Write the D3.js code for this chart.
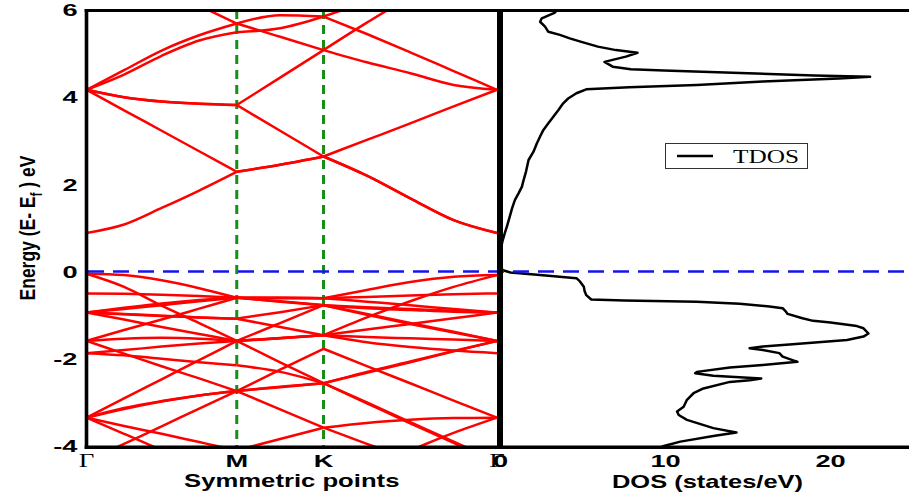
<!DOCTYPE html>
<html>
<head>
<meta charset="utf-8">
<script src="https://d3js.org/d3.v7.min.js"></script>
<style>
	body { margin: 0; background: #fff; }
	svg { display: block; }
</style>
</head>
<body>
<svg></svg>
<script>
const w = 909;
const h = 497;

// k path: Γ - M - K - Γ (hexagonal, lengths 1/√3, 1/3, 2/3)
const kPath = [0, 0.1443, 0.2887, 0.433, 0.5774, 0.744, 0.9107, 1.0774, 1.244, 1.4107, 1.5774];
const symLabels = ['Γ', 'M', 'K', 'Γ'];
const symPos = [0, 0.5774, 0.9107, 1.5774];
const energyTicks = [-4, -2, 0, 2, 4, 6];
const dosTicks = [0, 10, 20];
const segments = [[0, 4], [4, 6], [6, 10]];

// conduction bands (eV at each k point)
const cb1 = [0.885, 1.08, 1.46, 1.86, 2.29, 2.45, 2.64, 2.2, 1.68, 1.18, 0.885];
const cb2 = [4.17, 3.7, 3.23, 2.76, 2.29, 2.45, 2.64, 3.02, 3.4, 3.79, 4.17];
const cb3 = [4.17, 4.0, 3.9, 3.85, 3.82, 3.23, 2.64, 2.2, 1.68, 1.18, 0.885];
const cb4 = [4.17, 4.0, 3.9, 3.85, 3.82, 4.45, 5.08, 5.71, 6.3, 6.8, 7.1];
const cb5 = [4.17, 4.52, 4.95, 5.3, 5.49, 5.58, 5.85, 6.2, 6.6, 7.0, 7.3];
const cb6 = [4.17, 4.62, 5.07, 5.42, 5.69, 5.88, 5.85, 5.45, 5.03, 4.6, 4.17];
const cb7 = [7.2, 6.9, 6.5, 6.1, 5.69, 5.385, 5.08, 4.8, 4.55, 4.28, 4.17];

// valence bands
const vb1 = [-0.05, -0.08, -0.2, -0.38, -0.6, -0.6, -0.61, -0.42, -0.24, -0.12, -0.08];
const vb2 = [-0.05, -0.35, -0.78, -1.18, -1.59, -2.08, -2.56, -2.32, -2.08, -1.83, -1.59];
const vb3 = [-0.5, -0.51, -0.53, -0.56, -0.6, -0.6, -0.61, -0.58, -0.55, -0.52, -0.5];
const vb4 = [-0.94, -0.86, -0.77, -0.68, -0.6, -0.61, -0.61, -0.69, -0.77, -0.86, -0.94];
const vb5 = [-0.94, -0.83, -0.73, -0.65, -0.6, -0.68, -0.77, -0.82, -0.86, -0.9, -0.94];
const vb6 = [-1.59, -1.34, -1.1, -0.85, -0.6, -0.69, -0.77, -0.84, -0.88, -0.92, -0.94];
const vb7 = [-0.94, -0.97, -1.01, -1.05, -1.08, -0.93, -0.77, -0.99, -1.2, -1.4, -1.59];
const vb8 = [-0.94, -0.98, -1.02, -1.05, -1.08, -1.27, -1.46, -1.05, -0.68, -0.35, -0.08];
const vb9 = [-0.94, -1.1, -1.27, -1.43, -1.59, -1.52, -1.46, -1.33, -1.2, -1.07, -0.94];
const vb10 = [-1.59, -1.54, -1.52, -1.54, -1.59, -1.53, -1.46, -1.5, -1.53, -1.56, -1.59];
const vb11 = [-1.87, -1.8, -1.72, -1.65, -1.59, -1.53, -1.46, -1.62, -1.73, -1.81, -1.87];
const vb12 = [-1.87, -1.92, -2.0, -2.08, -2.15, -2.3, -2.56, -2.3, -2.06, -1.82, -1.59];
const vb13 = [-1.59, -1.88, -2.17, -2.45, -2.74, -2.25, -1.77, -2.17, -2.56, -2.96, -3.35];
const vb14 = [-3.35, -3.15, -2.98, -2.84, -2.74, -2.64, -2.56, -3.02, -3.48, -3.93, -4.39];
const vb15 = [-4.35, -3.95, -3.55, -3.14, -2.74, -2.65, -2.56, -3.0, -3.45, -3.9, -4.35];
const vb16 = [-3.35, -3.13, -2.97, -2.84, -2.74, -3.16, -3.58, -3.47, -3.4, -3.36, -3.35];
const vb17 = [-3.35, -3.54, -3.72, -3.91, -4.1, -3.84, -3.58, -3.95, -4.3, -4.6, -4.9];
const vb18 = [-3.35, -3.72, -4.1, -4.5, -4.86, -4.9, -4.85, -4.5, -4.1, -3.7, -3.35];
const vb19 = [-3.35, -2.91, -2.47, -2.03, -1.59, -1.18, -0.77, -0.97, -1.18, -1.38, -1.59];

const bands = [cb1, cb2, cb3, cb4, cb5, cb6, cb7,
	vb1, vb2, vb3, vb4, vb5, vb6, vb7, vb8, vb9, vb10,
	vb11, vb12, vb13, vb14, vb15, vb16, vb17, vb18, vb19];

// total DOS: energy (eV) and states/eV
const dosEnergy = [6.1, 5.94, 5.81, 5.73, 5.62, 5.5, 5.43, 5.35, 5.27, 5.16, 5.08, 5.02, 4.93, 4.81,
	4.7, 4.64, 4.61, 4.55, 4.5, 4.47, 4.43, 4.36, 4.28, 4.23, 4.18, 4.09, 3.97, 3.86, 3.7, 3.55,
	3.4, 3.25, 3.1, 2.94, 2.75, 2.56, 2.3, 2.1, 1.95, 1.8, 1.64, 1.45, 1.26, 1.05, 0.88, 0.7,
	0.57, 0.45, 0.1, 0.03, -0.02, -0.08, -0.15, -0.22, -0.35, -0.45, -0.54, -0.64, -0.66, -0.69,
	-0.74, -0.8, -0.84, -0.92, -0.97, -1.07, -1.13, -1.17, -1.25, -1.3, -1.42, -1.49, -1.57,
	-1.66, -1.72, -1.76, -1.8, -1.87, -1.95, -2.07, -2.14, -2.2, -2.3, -2.33, -2.39, -2.45,
	-2.49, -2.53, -2.68, -2.79, -2.94, -3.1, -3.21, -3.29, -3.4, -3.59, -3.69, -3.77, -3.9, -4.0, -4.1];
const dosStates = [3.6, 3.3, 2.5, 2.4, 2.7, 2.9, 3.6, 4.2, 4.9, 5.9, 7.0, 8.3, 7.6, 6.3,
	6.8, 7.9, 9.9, 15.0, 19.0, 22.4, 20.5, 15.9, 11.9, 7.8, 5.2, 4.6, 4.1, 3.8, 3.5, 3.2,
	2.9, 2.6, 2.4, 2.2, 2.0, 1.7, 1.55, 1.4, 1.3, 1.1, 0.87, 0.7, 0.56, 0.4, 0.26, 0.12,
	0.05, 0, 0, 0.15, 0.6, 2.4, 4.6, 4.8, 5.05, 5.1, 5.2, 5.5, 7.5, 11.9,
	14.5, 16.3, 17.1, 17.3, 17.4, 18.3, 18.95, 20.0, 21.6, 22.0, 22.3, 22.0, 21.0,
	17.9, 15.9, 15.1, 15.9, 16.9, 17.1, 18.0, 15.9, 13.9, 11.9, 11.8, 12.9, 15.8,
	15.1, 13.9, 12.3, 11.7, 11.3, 11.1, 10.7, 10.8, 11.3, 12.9, 14.3, 12.9, 10.9, 9.9, 9.3];

const sans = 'Liberation Sans, Arial, sans-serif';
const serif = 'Liberation Serif, Times New Roman, serif';

let xBand;
let xDos;
let yScale;

const canvas = d3.select('svg').attr('width', w).attr('height', h);

const generateScales = () => {
	xBand = d3.scaleLinear().domain([0, 1.5774]).range([86.5, 497]);
	xDos = d3.scaleLinear().domain([0, 25]).range([500.5, 913]);
	yScale = d3.scaleLinear().domain([-4, 6]).range([446, 10]);
};

const drawClips = () => {
	const defs = canvas.append('defs');
	defs.append('clipPath').attr('id', 'bandClip')
		.append('rect').attr('x', 86).attr('y', 10).attr('width', 412).attr('height', 436);
	defs.append('clipPath').attr('id', 'dosClip')
		.append('rect').attr('x', 500).attr('y', 10).attr('width', 409).attr('height', 436);
};

const drawBands = () => {
	// green dashed lines at M and K
	canvas.append('g')
		.selectAll('line')
		.data(symPos.slice(1, 3))
		.join('line')
		.attr('x1', (d) => xBand(d))
		.attr('x2', (d) => xBand(d))
		.attr('y1', yScale(6))
		.attr('y2', yScale(-4))
		.attr('stroke', '#178f17')
		.attr('stroke-width', 3)
		.attr('stroke-dasharray', '9,6');

	const line = d3.line()
		.x((i) => xBand(kPath[i]))
		.curve(d3.curveMonotoneX);

	const pieces = bands.flatMap((b) =>
		segments.map((s) => ({ band: b, idx: d3.range(s[0], s[1] + 1) }))
	);

	canvas.append('g')
		.attr('clip-path', 'url(#bandClip)')
		.selectAll('path')
		.data(pieces)
		.join('path')
		.attr('fill', 'none')
		.attr('stroke', '#ff0000')
		.attr('stroke-width', 2.5)
		.attr('stroke-linejoin', 'round')
		.attr('d', (d) => line.y((i) => yScale(d.band[i]))(d.idx));
};

const drawDos = () => {
	const dosLine = d3.line()
		.x((d) => xDos(d[1]))
		.y((d) => yScale(d[0]));

	canvas.append('g')
		.attr('clip-path', 'url(#dosClip)')
		.append('path')
		.datum(d3.zip(dosEnergy, dosStates))
		.attr('fill', 'none')
		.attr('stroke', '#000')
		.attr('stroke-width', 2.5)
		.attr('stroke-linejoin', 'round')
		.attr('d', dosLine);

	// Fermi level
	canvas.append('line')
		.attr('x1', 88)
		.attr('x2', w)
		.attr('y1', yScale(0))
		.attr('y2', yScale(0))
		.attr('stroke', '#1414ee')
		.attr('stroke-width', 2.5)
		.attr('stroke-dasharray', '16,9');

	// legend
	const lg = canvas.append('g');
	lg.append('rect')
		.attr('x', 665.5).attr('y', 143.5).attr('width', 142).attr('height', 25)
		.attr('fill', '#fff').attr('stroke', '#333').attr('stroke-width', 1);
	lg.append('line')
		.attr('x1', 677).attr('x2', 713).attr('y1', 156).attr('y2', 156)
		.attr('stroke', '#000').attr('stroke-width', 2.5);
	lg.append('text')
		.attr('transform', 'translate(733,163) scale(1.33,1)')
		.attr('font-family', serif)
		.attr('font-size', 19)
		.text('TDOS');
};

const drawFrame = () => {
	const frame = canvas.append('g').attr('stroke', '#000');
	frame.append('line').attr('x1', 84.7).attr('x2', w).attr('y1', 10.5).attr('y2', 10.5).attr('stroke-width', 3);
	frame.append('line').attr('x1', 86.5).attr('x2', 86.5).attr('y1', 9).attr('y2', 449).attr('stroke-width', 3.6);
	frame.append('line').attr('x1', 84.7).attr('x2', w).attr('y1', 447.3).attr('y2', 447.3).attr('stroke-width', 3.5);
	frame.append('line').attr('x1', 500).attr('x2', 500).attr('y1', 9).attr('y2', 449).attr('stroke-width', 6);
};

const generateAxes = () => {
	const yAxis = d3.axisLeft(yScale)
		.tickValues(energyTicks)
		.tickFormat((d) => String(d))
		.tickSize(0);
	const gy = canvas.append('g')
		.attr('transform', `translate(${xBand.range()[0]},0)`)
		.call(yAxis);
	gy.select('.domain').remove();
	gy.selectAll('text')
		.attr('x', -9 / 1.6)
		.attr('dy', '0.36em')
		.attr('transform', 'scale(1.6,1)')
		.attr('font-family', sans)
		.attr('font-weight', 'bold')
		.attr('font-size', 17)
		.attr('fill', '#000');

	const xAxis = d3.axisBottom(xBand)
		.tickValues(symPos)
		.tickFormat((d, i) => symLabels[i])
		.tickSize(0);
	const gx = canvas.append('g')
		.attr('transform', `translate(0,${yScale(-4)})`)
		.call(xAxis);
	gx.select('.domain').remove();
	gx.selectAll('text')
		.attr('fill', '#000')
		.each(function (d, i) {
			const t = d3.select(this);
			if (symLabels[i] === 'Γ') {
				t.attr('font-family', serif).attr('font-size', 18).attr('y', 8)
					.attr('transform', 'scale(1.5,1)');
			} else {
				t.attr('font-family', sans).attr('font-weight', 'bold').attr('font-size', 17)
					.attr('y', 9).attr('transform', 'scale(1.6,1)');
			}
		});

	const dosAxis = d3.axisBottom(xDos).tickValues(dosTicks).tickSize(0);
	const gd = canvas.append('g')
		.attr('transform', `translate(0,${yScale(-4)})`)
		.call(dosAxis);
	gd.select('.domain').remove();
	gd.selectAll('text')
		.attr('y', 9)
		.attr('transform', 'scale(1.6,1)')
		.attr('font-family', sans)
		.attr('font-weight', 'bold')
		.attr('font-size', 17)
		.attr('fill', '#000');
	gd.selectAll('.tick').attr('transform', (d) => `translate(${xDos(d)},0)`);
	gx.selectAll('.tick').attr('transform', (d) => `translate(${xBand(d)},0)`);
	gy.selectAll('.tick').attr('transform', (d) => `translate(0,${yScale(d)})`);
};

const drawTitles = () => {
	canvas.append('text')
		.attr('transform', `translate(${(xBand.range()[0] + xBand.range()[1]) / 2},487) scale(1.38,1)`)
		.attr('text-anchor', 'middle')
		.attr('font-family', sans)
		.attr('font-weight', 'bold')
		.attr('font-size', 18.6)
		.text('Symmetric points');

	canvas.append('text')
		.attr('transform', 'translate(707.5,488) scale(1.37,1)')
		.attr('text-anchor', 'middle')
		.attr('font-family', sans)
		.attr('font-weight', 'bold')
		.attr('font-size', 18.6)
		.text('DOS (states/eV)');

	const yl = canvas.append('text')
		.attr('transform', 'translate(35,228) rotate(-90) scale(1,1.3)')
		.attr('text-anchor', 'middle')
		.attr('font-family', sans)
		.attr('font-weight', 'bold')
		.attr('font-size', 17.5);
	yl.append('tspan').text('Energy (E- E');
	yl.append('tspan').attr('font-size', 12).attr('dy', 5).text('f');
	yl.append('tspan').attr('dy', -5).text(' ) eV');
};

const drawCanvas = () => {
	generateScales();
	drawClips();
	drawBands();
	drawDos();
	drawFrame();
	generateAxes();
	drawTitles();
};

drawCanvas();
</script>
</body>
</html>
